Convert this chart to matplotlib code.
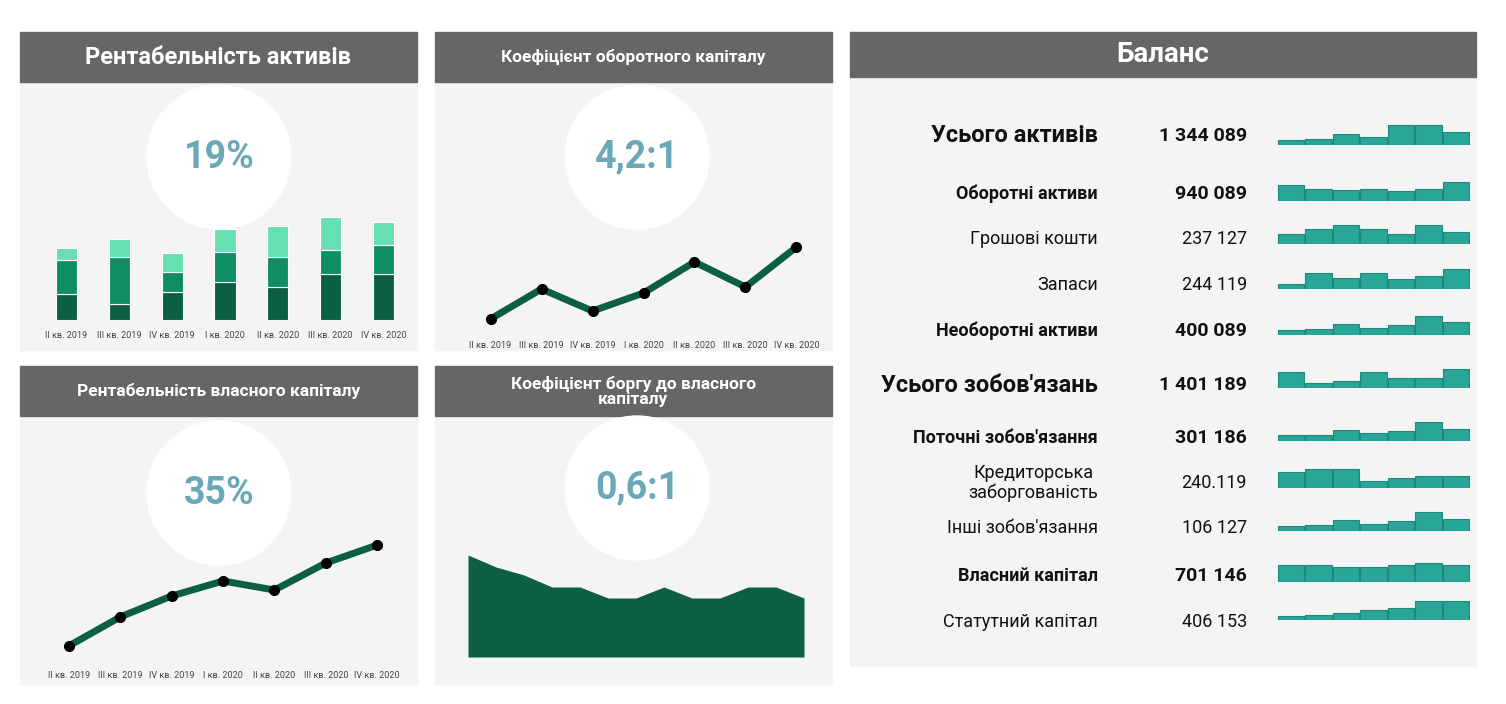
import matplotlib
matplotlib.use("Agg")
import matplotlib.pyplot as plt
from matplotlib.patches import Rectangle, Circle

plt.rcParams['font.family'] = ['Roboto', 'DejaVu Sans']

quarters = ["II кв. 2019", "III кв. 2019", "IV кв. 2019", "I кв. 2020", "II кв. 2020", "III кв. 2020", "IV кв. 2020"]
bar_dark = [78, 48, 85, 113, 98, 138, 138]
bar_mid = [102, 140, 60, 92, 92, 72, 88]
bar_light = [37, 56, 57, 68, 93, 98, 67]
wc_line = [21, 51, 29, 47, 78, 53, 93]
roe_line = [54, 83, 104, 119, 110, 137, 155]
debt_area = [102, 90, 82, 70, 70, 59, 59, 70, 59, 59, 70, 70, 59]

kpi_roa = "19%"
kpi_wc = "4,2:1"
kpi_roe = "35%"
kpi_de = "0,6:1"

bal_labels = ["Усього активів", "Оборотні активи", "Грошові кошти", "Запаси", "Необоротні активи",
              "Усього зобов'язань", "Поточні зобов'язання", "Кредиторська\nзаборгованість",
              "Інші зобов'язання", "Власний капітал", "Статутний капітал"]
bal_values = ["1 344 089", "940 089", "237 127", "244 119", "400 089", "1 401 189", "301 186",
              "240.119", "106 127", "701 146", "406 153"]
bal_bold = [True, True, False, False, True, True, True, False, False, True, False]
bal_big = [True, False, False, False, False, True, False, False, False, False, False]
spark = [
    [15, 17, 34, 23, 59, 59, 38],
    [48, 37, 33, 37, 31, 37, 57],
    [31, 44, 58, 44, 31, 58, 37],
    [15, 47, 32, 47, 30, 38, 59],
    [15, 18, 34, 22, 31, 58, 38],
    [48, 16, 22, 48, 31, 31, 57],
    [17, 19, 33, 23, 31, 58, 37],
    [48, 56, 56, 22, 30, 37, 37],
    [15, 17, 32, 21, 29, 56, 37],
    [52, 52, 44, 44, 52, 58, 52],
    [13, 16, 20, 29, 36, 57, 57],
]

W, H = 1506, 704
fig = plt.figure(figsize=(W / 100, H / 100), dpi=100, facecolor='white')
bg = fig.add_axes([0, 0, 1, 1])
bg.set_xlim(0, W); bg.set_ylim(H, 0); bg.axis('off')

def axpx(x0, y0, x1, y1):
    a = fig.add_axes([x0 / W, 1 - y1 / H, (x1 - x0) / W, (y1 - y0) / H])
    a.patch.set_alpha(0)
    return a

PANEL = '#f4f4f4'; HEAD = '#666666'; KPI = '#6aa8b8'
DARK = '#0c5e45'; MID = '#0e8f63'; LIGHT = '#66e0b0'

def panel(x0, x1, hy0, hy1, by1, title, fs):
    bg.add_patch(Rectangle((x0, hy1), x1 - x0, by1 - hy1, color=PANEL))
    bg.add_patch(Rectangle((x0, hy0), x1 - x0, hy1 - hy0, color=HEAD))
    bg.text((x0 + x1) / 2, (hy0 + hy1) / 2, title, color='white', fontsize=fs, fontweight='bold',
            ha='center', va='center', linespacing=1.0)

panel(20, 417, 32, 82, 350, "Рентабельність активів", 17)
panel(435, 832, 32, 82, 350, "Коефіцієнт оборотного капіталу", 12.5)
panel(20, 417, 366, 416, 684, "Рентабельність власного капіталу", 12.5)
panel(435, 832, 366, 416, 684, "Коефіцієнт боргу до власного\nкапіталу", 12.5)
panel(850, 1476, 32, 77, 666, "Баланс", 20)

for (cx, cy, t) in [(219, 157, kpi_roa), (637, 157, kpi_wc), (219, 493, kpi_roe), (637, 488, kpi_de)]:
    bg.add_patch(Circle((cx, cy), 72, color='white'))
    bg.text(cx, cy, t, color=KPI, fontsize=27, fontweight='bold', ha='center', va='center')

def style(a, labels=True):
    for s in a.spines.values():
        s.set_visible(False)
    a.set_yticks([])
    if labels:
        a.set_xticks(range(7))
        a.set_xticklabels(quarters, fontsize=6.5, color='#444444')
        a.tick_params(axis='x', length=0, pad=8)
    else:
        a.set_xticks([])

# bar chart
a = axpx(40, 210, 410, 320)
x = list(range(7))
a.bar(x, bar_dark, 0.4, color=DARK, edgecolor='white', linewidth=0.8)
b2 = [d for d in bar_dark]
a.bar(x, bar_mid, 0.4, bottom=b2, color=MID, edgecolor='white', linewidth=0.8)
b3 = [d + m for d, m in zip(bar_dark, bar_mid)]
a.bar(x, bar_light, 0.4, bottom=b3, color=LIGHT, edgecolor='white', linewidth=0.8)
a.set_xlim(-0.5, 6.5); a.set_ylim(0, 330)
style(a)

# working capital line
a = axpx(465, 230, 822, 330)
a.plot(x, wc_line, color=DARK, lw=5, marker='o', mfc='black', mec='black', ms=7, solid_capstyle='round')
a.set_xlim(-0.5, 6.5); a.set_ylim(10, 110)
style(a)

# ROE line
a = axpx(43, 530, 403, 660)
a.plot(x, roe_line, color=DARK, lw=5, marker='o', mfc='black', mec='black', ms=7, solid_capstyle='round')
a.set_xlim(-0.5, 6.5); a.set_ylim(40, 170)
style(a)

# debt area
a = axpx(468, 540, 804, 657)
xa = list(range(len(debt_area)))
a.fill_between(xa, debt_area, 0, color=DARK, lw=0)
a.set_xlim(0, len(debt_area) - 1); a.set_ylim(0, 117)
style(a, labels=False)

# balance
row_y = [136, 194, 239, 285, 331, 385, 438, 483, 528, 576, 622]
spark_bottom = [145, 201, 244, 289, 335, 388, 441, 488, 531, 582, 620]
for i in range(len(bal_labels)):
    fs = 17 if bal_big[i] else 13
    fw = 'bold' if bal_bold[i] else 'normal'
    bg.text(1098, row_y[i], bal_labels[i], fontsize=fs, fontweight=fw, ha='right', va='center',
            color='#111111', multialignment='center', linespacing=1.15)
    bg.text(1247, row_y[i], bal_values[i], fontsize=14 if bal_bold[i] else 13, fontweight=fw,
            ha='right', va='center', color='#111111')
    sa = axpx(1277, spark_bottom[i] - 22, 1470, spark_bottom[i])
    sa.bar(range(7), spark[i], 0.96, color='#28a696', edgecolor='#1e8a7d', linewidth=0.8)
    sa.set_xlim(-0.5, 6.5); sa.set_ylim(0, 66)
    sa.axis('off')

fig.savefig('out.png', dpi=100, facecolor='white')
